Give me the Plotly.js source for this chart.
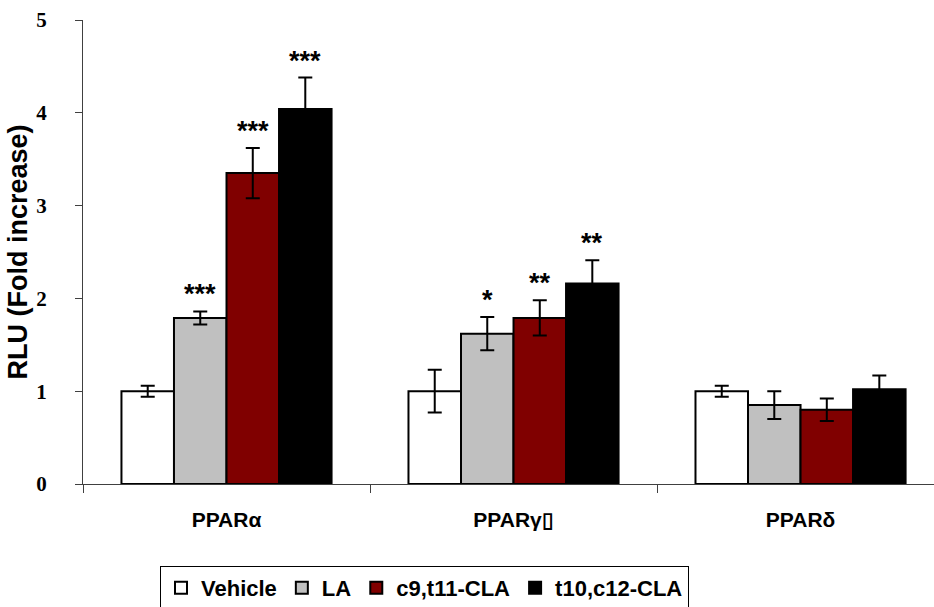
<!DOCTYPE html>
<html>
<head>
<meta charset="utf-8">
<script src="https://cdn.plot.ly/plotly-3.0.1.min.js"></script>
<style>html,body{margin:0;padding:0;background:#fff;}#chart{width:934px;height:607px;}</style>
</head>
<body>
<div id="chart"></div>
<script>
const categories = ['PPARα', 'PPARγ\u25AF', 'PPARδ'];
const seriesNames = ['Vehicle', 'LA', 'c9,t11-CLA', 't10,c12-CLA'];
const vehicle = [1.00, 1.00, 1.00];
const vehicleErr = [0.06, 0.23, 0.06];
const la = [1.79, 1.62, 0.85];
const laErr = [0.07, 0.18, 0.15];
const c9t11 = [3.35, 1.79, 0.80];
const c9t11Err = [0.27, 0.19, 0.12];
const t10c12 = [4.04, 2.16, 1.02];
const t10c12Err = [0.34, 0.25, 0.15];
const vehicleStars = ['', '', ''];
const laStars = ['***', '*', ''];
const c9t11Stars = ['***', '**', ''];
const t10c12Stars = ['***', '**', ''];
const yTickVals = [0, 1, 2, 3, 4, 5];

const colors = ['#FFFFFF', '#C0C0C0', '#800000', '#000000'];
const values = [vehicle, la, c9t11, t10c12];
const errs = [vehicleErr, laErr, c9t11Err, t10c12Err];
const stars = [vehicleStars, laStars, c9t11Stars, t10c12Stars];
const bargap = 0.268;
const sans = 'Liberation Sans, Arial, sans-serif';
const serif = 'Liberation Serif, Times New Roman, serif';

const traces = seriesNames.map((name, i) => ({
  type: 'bar',
  name: name,
  x: categories,
  y: values[i],
  marker: {color: colors[i], line: {color: '#000', width: 2}},
  error_y: {type: 'data', array: errs[i], visible: true, color: '#000', thickness: 2, width: 7}
}));

const annotations = [];
const barW = (1 - bargap) / 4;
stars.forEach((arr, i) => {
  arr.forEach((s, g) => {
    if (!s) return;
    annotations.push({
      x: g + (i - 1.5) * barW,
      y: values[i][g] + errs[i][g],
      xref: 'x', yref: 'y',
      text: s, showarrow: false,
      yanchor: 'middle', yshift: 17,
      font: {family: sans, size: 27, color: '#000', weight: 'bold'}
    });
  });
});

const layout = {
  width: 934, height: 607,
  margin: {l: 83, r: 0, t: 20, b: 123, autoexpand: false},
  paper_bgcolor: '#fff', plot_bgcolor: '#fff',
  barmode: 'group', bargap: bargap, bargroupgap: 0,
  showlegend: true,
  legend: {
    orientation: 'h',
    xref: 'container', yref: 'container',
    x: 160 / 934, xanchor: 'left', y: (607 - 566) / 607, yanchor: 'top',
    bordercolor: '#000', borderwidth: 1, bgcolor: '#fff',
    font: {family: sans, size: 22, color: '#000', weight: 'bold'},
    itemwidth: 30
  },
  xaxis: {
    type: 'category',
    range: [-0.5, 2.465],
    showline: true, linecolor: '#404040', linewidth: 1,
    ticks: 'outside', tickson: 'boundaries', ticklen: 8, tickcolor: '#404040',
    ticklabelstandoff: 17,
    tickfont: {family: sans, size: 21, color: '#000', weight: 'bold'},
    showgrid: false, zeroline: false, fixedrange: true
  },
  yaxis: {
    range: [0, 5],
    tickvals: yTickVals,
    showline: true, linecolor: '#404040', linewidth: 1,
    ticks: 'outside', ticklen: 7, tickcolor: '#404040',
    ticklabelstandoff: 24,
    tickfont: {family: serif, size: 21, color: '#000', weight: 'bold'},
    showgrid: false, zeroline: false,
    title: {text: 'RLU (Fold increase)', font: {family: sans, size: 27, color: '#000', weight: 'bold'}, standoff: 0}
  },
  annotations: annotations
};

Plotly.newPlot('chart', traces, layout, {displayModeBar: false, staticPlot: true});
</script>
</body>
</html>
